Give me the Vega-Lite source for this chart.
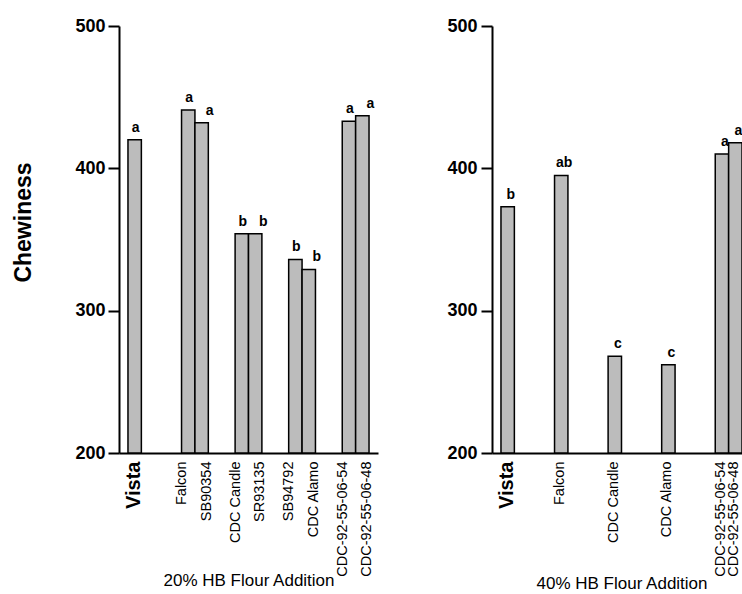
{
  "$schema": "https://vega.github.io/schema/vega-lite/v6.json",
  "padding": {"left": 12, "top": 11, "right": 0, "bottom": 0},
  "background": "white",
  "config": {
    "font": "Liberation Sans",
    "view": {"stroke": null},
    "axis": {"domainColor": "black", "domainWidth": 2, "tickColor": "black", "tickWidth": 2, "labelColor": "black", "titleColor": "black", "grid": false}
  },
  "datasets": {
    "p20": [
      {"cultivar": "Vista", "chewiness": 420, "letter": "a"},
      {"cultivar": "Falcon", "chewiness": 441, "letter": "a"},
      {"cultivar": "SB90354", "chewiness": 432, "letter": "a"},
      {"cultivar": "CDC Candle", "chewiness": 354, "letter": "b"},
      {"cultivar": "SR93135", "chewiness": 354, "letter": "b"},
      {"cultivar": "SB94792", "chewiness": 336, "letter": "b"},
      {"cultivar": "CDC Alamo", "chewiness": 329, "letter": "b"},
      {"cultivar": "CDC-92-55-06-54", "chewiness": 433, "letter": "a"},
      {"cultivar": "CDC-92-55-06-48", "chewiness": 437, "letter": "a"}
    ],
    "p40": [
      {"cultivar": "Vista", "chewiness": 373, "letter": "b"},
      {"cultivar": "Falcon", "chewiness": 395, "letter": "ab"},
      {"cultivar": "CDC Candle", "chewiness": 268, "letter": "c"},
      {"cultivar": "CDC Alamo", "chewiness": 262, "letter": "c"},
      {"cultivar": "CDC-92-55-06-54", "chewiness": 410, "letter": "a"},
      {"cultivar": "CDC-92-55-06-48", "chewiness": 418, "letter": "a"}
    ]
  },
  "spacing": 68,
  "hconcat": [
    {
      "width": 259,
      "height": 427,
      "data": {"name": "p20"},
      "encoding": {
        "x": {
          "field": "cultivar", "type": "nominal",
          "scale": {"domain": ["Vista", "_a1", "_a2", "_a3", "Falcon", "SB90354", "_b1", "_b2", "CDC Candle", "SR93135", "_c1", "_c2", "SB94792", "CDC Alamo", "_d1", "_d2", "CDC-92-55-06-54", "CDC-92-55-06-48"], "paddingInner": 0, "paddingOuter": 0.67},
          "axis": {
            "title": "20% HB Flour Addition", "titleFontSize": 17, "titleFontWeight": "normal", "titleY": 119, "titleBaseline": "top",
            "ticks": false, "labelAngle": -90, "labelPadding": 8, "labelOverlap": false, "labelLimit": 0,
            "labelExpr": "indexof(datum.value, '_') === 0 ? '' : datum.value",
            "labelFontSize": {"condition": {"test": "datum.value === 'Vista'", "value": 20}, "value": 14.5},
            "labelFontWeight": {"condition": {"test": "datum.value === 'Vista'", "value": "bold"}, "value": "normal"},
            "labelOffset": {"condition": [
              {"test": "indexof(['Falcon','CDC Candle','SB94792','CDC-92-55-06-54'], datum.value) >= 0", "value": -6},
              {"test": "indexof(['SB90354','SR93135','CDC Alamo','CDC-92-55-06-48'], datum.value) >= 0", "value": 5}
            ], "value": -1}
          }
        },
        "y": {
          "field": "chewiness", "type": "quantitative",
          "scale": {"domain": [200, 500], "nice": false, "zero": false},
          "axis": {"values": [200, 300, 400, 500], "tickSize": 11, "labelPadding": 3, "labelFontSize": 18, "labelFontWeight": "bold",
                   "title": "Chewiness", "titleFontSize": 23, "titleFontWeight": "bold", "titlePadding": 39, "titleY": 196}
        }
      },
      "layer": [
        {"mark": {"type": "bar", "fill": "#bcbcbc", "stroke": "black", "strokeWidth": 1.5}, "encoding": {"y2": {"datum": 200}}},
        {"transform": [{"filter": {"not": {"field": "cultivar", "oneOf": ["SB90354", "SR93135", "CDC Alamo", "CDC-92-55-06-48"]}}}],
         "mark": {"type": "text", "baseline": "alphabetic", "dy": -8, "dx": 1, "fontSize": 14, "fontWeight": "bold", "color": "black"},
         "encoding": {"text": {"field": "letter"}}},
        {"transform": [{"filter": {"field": "cultivar", "oneOf": ["SB90354", "SR93135", "CDC Alamo", "CDC-92-55-06-48"]}}],
         "mark": {"type": "text", "baseline": "alphabetic", "dy": -8, "dx": 8, "fontSize": 14, "fontWeight": "bold", "color": "black"},
         "encoding": {"text": {"field": "letter"}}}
      ]
    },
    {
      "width": 259,
      "height": 427,
      "title": {"text": " ", "fontSize": 6, "offset": 0},
      "data": {"name": "p40"},
      "encoding": {
        "x": {
          "field": "cultivar", "type": "nominal",
          "scale": {"domain": ["Vista", "_a1", "_a2", "_a3", "Falcon", "_b1", "_b2", "_b3", "CDC Candle", "_c1", "_c2", "_c3", "CDC Alamo", "_d1", "_d2", "_d3", "CDC-92-55-06-54", "CDC-92-55-06-48"], "paddingInner": 0, "paddingOuter": 0.67},
          "axis": {
            "title": "40% HB Flour Addition", "titleFontSize": 17, "titleFontWeight": "normal", "titleY": 122, "titleBaseline": "top",
            "ticks": false, "labelAngle": -90, "labelPadding": 8, "labelOverlap": false, "labelLimit": 0,
            "labelExpr": "indexof(datum.value, '_') === 0 ? '' : datum.value",
            "labelFontSize": {"condition": {"test": "datum.value === 'Vista'", "value": 20}, "value": 14.5},
            "labelFontWeight": {"condition": {"test": "datum.value === 'Vista'", "value": "bold"}, "value": "normal"},
            "labelOffset": -1
          }
        },
        "y": {
          "field": "chewiness", "type": "quantitative",
          "scale": {"domain": [200, 500], "nice": false, "zero": false},
          "axis": {"values": [200, 300, 400, 500], "tickSize": 11, "labelPadding": 4, "labelFontSize": 18, "labelFontWeight": "bold", "title": null}
        }
      },
      "layer": [
        {"mark": {"type": "bar", "fill": "#bcbcbc", "stroke": "black", "strokeWidth": 1.5}, "encoding": {"y2": {"datum": 200}}},
        {"mark": {"type": "text", "baseline": "alphabetic", "dy": -8, "dx": 3, "fontSize": 14, "fontWeight": "bold", "color": "black"},
         "encoding": {"text": {"field": "letter"}}}
      ]
    }
  ]
}
